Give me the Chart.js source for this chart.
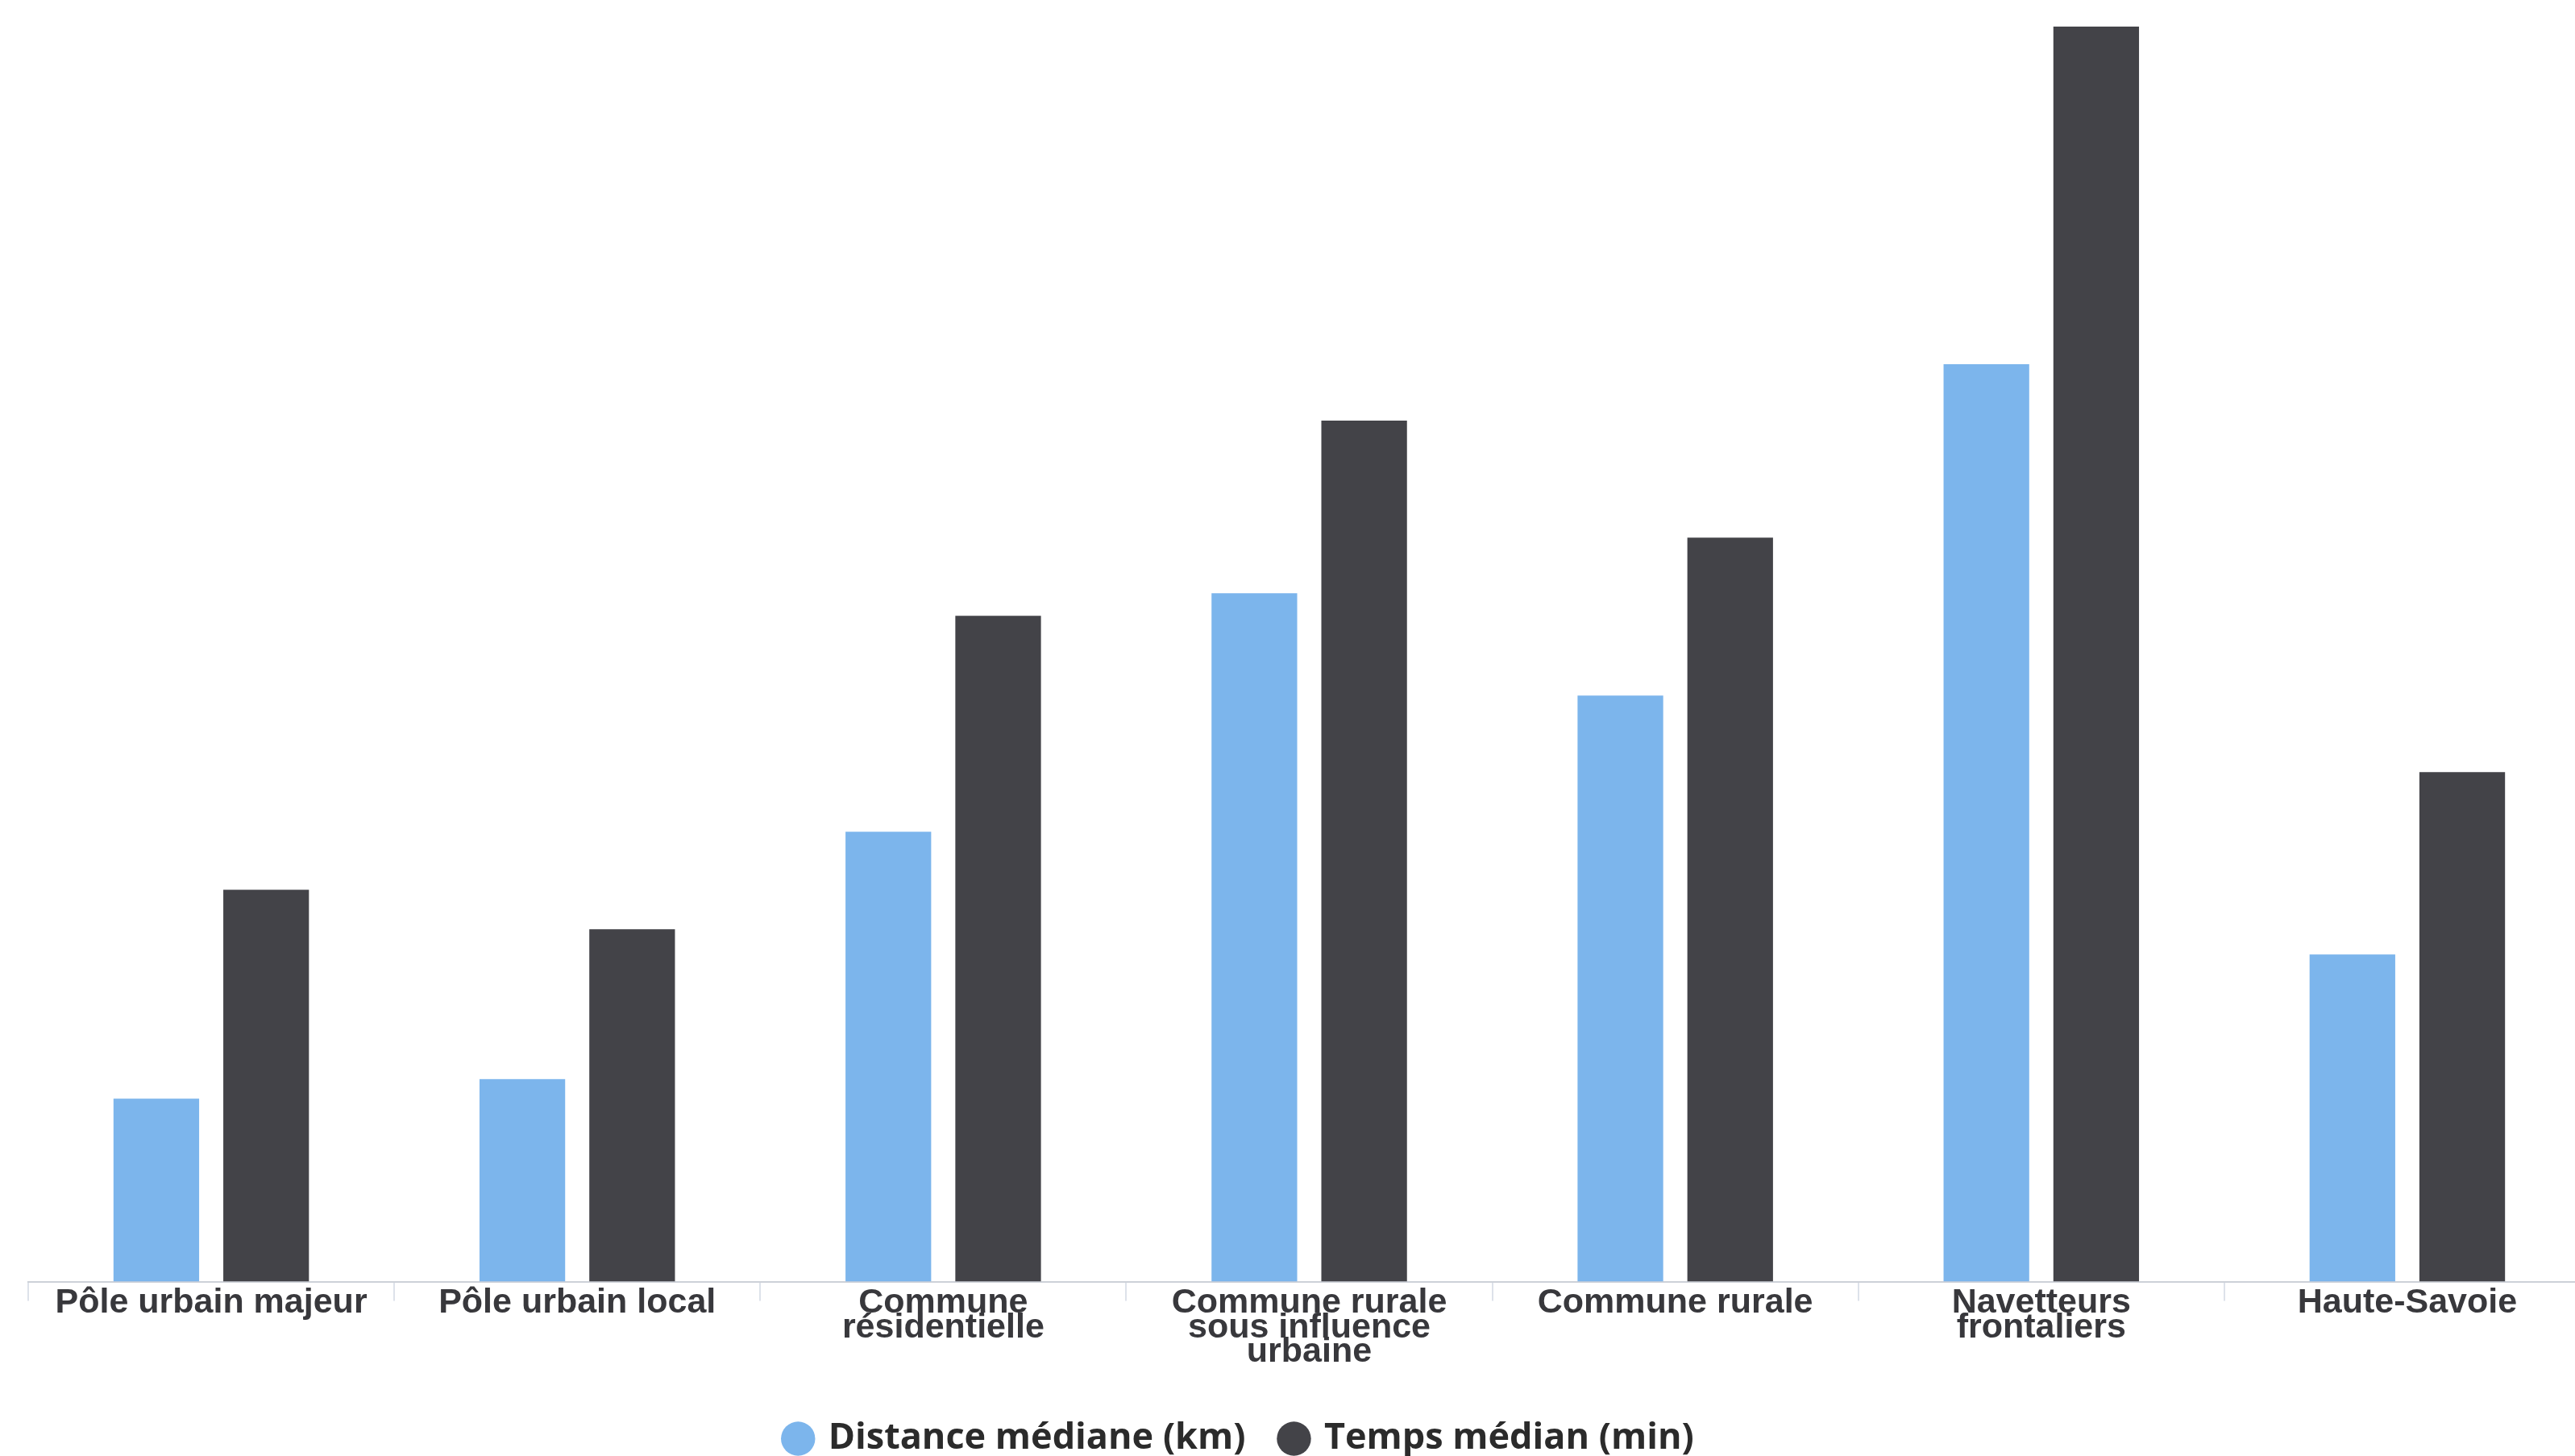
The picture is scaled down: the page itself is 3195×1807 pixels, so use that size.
<!DOCTYPE html>
<html>
<head>
<meta charset="utf-8">
<script src="https://cdn.jsdelivr.net/npm/chart.js@4.4.1/dist/chart.umd.min.js"></script>
<style>
  html, body { margin: 0; padding: 0; background: #ffffff; overflow: hidden; }
  canvas { display: block; }
</style>
</head>
<body>
<canvas id="c" width="3214" height="1818"></canvas>
<script>
const categories = [
  'Pôle urbain majeur',
  'Pôle urbain local',
  ['Commune', 'résidentielle'],
  ['Commune rurale', 'sous influence', 'urbaine'],
  'Commune rurale',
  ['Navetteurs', 'frontaliers'],
  'Haute-Savoie'
];
const seriesNames = ['Distance médiane (km)', 'Temps médian (min)'];
const distanceKm = [5.83, 6.45, 14.34, 21.94, 18.68, 29.24, 10.43];
const timeMin = [12.49, 11.23, 21.22, 27.44, 23.71, 40.0, 16.24];
const yMax = 40;

const legendShift = {
  id: 'legendShift',
  afterLayout(chart) {
    const l = chart.legend;
    if (l) { l.left -= 86; l.right -= 86; }
  }
};

new Chart(document.getElementById('c'), {
  type: 'bar',
  data: {
    labels: categories,
    datasets: [
      { label: seriesNames[0], data: distanceKm, backgroundColor: '#7cb5ec', borderWidth: 0 },
      { label: seriesNames[1], data: timeMin, backgroundColor: '#434348', borderWidth: 0 }
    ]
  },
  options: {
    responsive: false,
    devicePixelRatio: 1,
    animation: false,
    layout: { padding: { left: 35, top: 33, right: 0, bottom: 0 } },
    datasets: { bar: { categoryPercentage: 0.6, barPercentage: 0.78 } },
    plugins: {
      tooltip: { enabled: false },
      legend: {
        position: 'bottom',
        labels: {
          usePointStyle: true,
          pointStyle: 'circle',
          boxWidth: 30,
          boxHeight: 30,
          padding: 45,
          color: '#2b2b2b',
          font: { family: "'Open Sans', 'Noto Sans', sans-serif", size: 45, weight: 'bold' }
        }
      }
    },
    scales: {
      x: {
        grid: { display: true, drawOnChartArea: false, drawTicks: true, tickLength: 24, color: '#dde2ea', lineWidth: 2, offset: true },
        border: { display: true, color: '#cdd1d8', width: 2 },
        ticks: {
          color: '#38383c',
          padding: -12,
          maxRotation: 0,
          autoSkip: false,
          font: { family: "'Liberation Sans', Arial, sans-serif", size: 43, weight: 'bold', lineHeight: 0.7 }
        },
        afterFit(scale) { scale.height = 127.5; }
      },
      y: {
        display: false,
        min: 0,
        max: yMax
      }
    }
  },
  plugins: [legendShift]
});
</script>
</body>
</html>
